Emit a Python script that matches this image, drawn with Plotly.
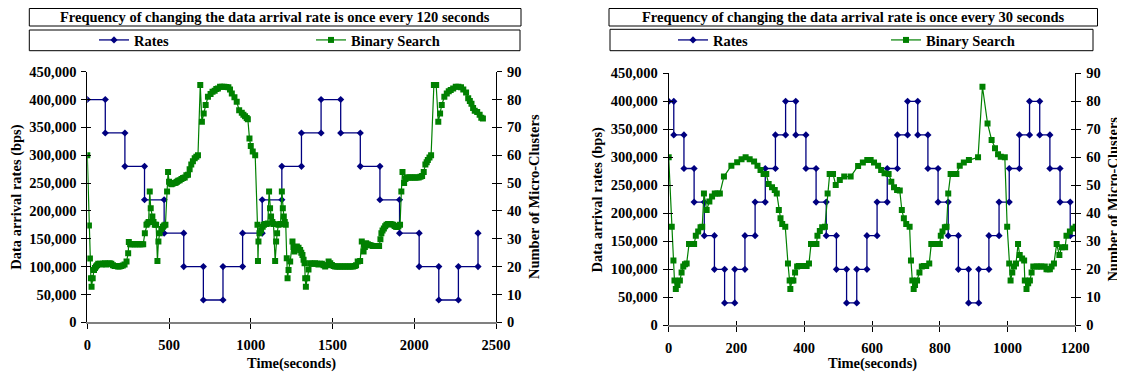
import plotly.graph_objects as go

# ---------------- DATA ----------------
# Left chart: rate changes every 120 s
left_change_times = [0, 110, 230, 350, 470, 590, 710, 830, 950, 1070, 1190, 1310, 1430,
                     1550, 1670, 1790, 1910, 2030, 2150, 2270, 2390]
left_rate_levels = [400000, 340000, 280000, 220000, 160000, 100000, 40000, 100000, 160000,
                    220000, 280000, 340000, 400000, 340000, 280000, 220000, 160000, 100000,
                    40000, 100000, 160000]

left_bs_time = [0, 10, 16, 22, 26, 33, 41, 47, 53, 60, 67, 77, 87, 97, 107, 117, 127, 137, 147,
                157, 167, 177, 187, 197, 207, 217, 228, 240, 250, 254, 262, 272, 282, 292, 302,
                312, 322, 332, 342, 352, 362, 368, 375, 382, 388, 398, 405, 413, 421, 429, 435,
                443, 453, 463, 470, 478, 488, 494, 500, 507, 514, 521, 528, 535, 542, 549, 556,
                565, 576, 586, 596, 606, 616, 626, 636, 646, 657, 667, 677, 691, 701, 712, 724,
                738, 754, 766, 779, 789, 799, 812, 825, 838, 850, 863, 873, 884, 900, 914, 929,
                945, 955, 965, 975, 982, 992, 1000, 1012, 1027, 1041, 1044, 1047, 1053, 1063,
                1073, 1081, 1088, 1096, 1104, 1112, 1118, 1124, 1132, 1139, 1149, 1155, 1161,
                1169, 1176, 1182, 1190, 1196, 1202, 1208, 1214, 1220, 1225, 1231, 1241, 1255,
                1261, 1267, 1275, 1282, 1292, 1302, 1309, 1316, 1323, 1329, 1333, 1337, 1345,
                1353, 1363, 1373, 1384, 1394, 1404, 1414, 1424, 1435, 1445, 1455, 1465, 1476,
                1486, 1496, 1506, 1516, 1526, 1536, 1546, 1556, 1566, 1576, 1586, 1596, 1606,
                1616, 1626, 1636, 1644, 1654, 1669, 1679, 1690, 1698, 1706, 1716, 1727, 1737,
                1748, 1758, 1768, 1778, 1785, 1793, 1799, 1806, 1814, 1822, 1830, 1840, 1851,
                1861, 1872, 1880, 1888, 1896, 1903, 1913, 1921, 1928, 1938, 1946, 1954, 1964,
                1974, 1984, 1994, 2004, 2014, 2027, 2038, 2048, 2058, 2068, 2076, 2083, 2093,
                2103, 2120, 2134, 2147, 2158, 2168, 2184, 2199, 2211, 2223, 2238, 2254, 2270,
                2286, 2300, 2317, 2330, 2340, 2350, 2360, 2370, 2385, 2400, 2410, 2420]
left_bs_clusters = [60, 34.8, 22.9, 15.8, 12.8, 15.8, 18.8, 19.5, 20, 20.5, 21, 21, 20.8, 21,
                    21.2, 20.8, 21, 21.2, 21, 20.5, 20.2, 20.2, 20, 20, 20.2, 20.4, 20.8, 21.8,
                    24.8, 28.8, 28, 28, 28, 28, 28, 28, 28, 28, 28, 32, 35, 35.5, 36, 47, 41, 38,
                    36, 35, 35, 22, 29, 32, 33.5, 34.3, 34.8, 35, 47, 54, 50.5, 50, 49.6, 49.8,
                    50, 50, 50.2, 50.5, 50.8, 51, 51.5, 51.8, 52, 52.8, 53, 55, 56.7, 57.8, 58.9,
                    59.5, 60, 85.2, 72, 75, 78, 81, 82, 82.8, 83.2, 83.8, 84, 84.6, 84.6, 84.6,
                    84.5, 84.4, 83.6, 82.2, 80.8, 79.2, 76.2, 75.3, 74.5, 74, 73.4, 72.9, 66,
                    63.3, 61.3, 60, 35, 22, 29, 32, 33, 34.3, 35, 35.3, 35.3, 35.5, 47, 41, 38,
                    36, 35.3, 22, 29, 32, 35, 35.2, 35.3, 47, 41, 38, 36, 35, 23, 15.8, 18.8,
                    21.8, 29, 27, 25.4, 26.5, 27.2, 26.8, 26, 25, 24.2, 22.5, 21.2, 15.8, 12.8,
                    15.8, 19, 21.2, 21, 21, 21.2, 21, 20.8, 21, 21, 20.5, 20, 20.5, 21.8, 21.2,
                    20.6, 20.2, 20, 20, 20, 20, 20, 20, 20, 20, 20, 20, 20, 20, 20.2, 20.5, 21.8,
                    22, 29, 25.4, 27, 28.4, 28, 27.8, 27.6, 27.4, 27.4, 27.4, 27.4, 27.4, 29.8,
                    32, 33, 33.7, 34.5, 35, 35.3, 35.3, 35.2, 35, 34.6, 34.3, 34.2, 34.5, 35, 47,
                    54, 50, 51.5, 52, 52, 52, 52, 52, 52, 52, 52, 52.3, 52.5, 54, 56.7, 57.5,
                    58.3, 59.2, 60, 85.2, 85.2, 72, 75, 78, 81, 82.2, 83, 83.4, 84, 84.6, 84.6,
                    84.4, 83.6, 82.5, 80.5, 79.5, 78.5, 77, 76, 75.5, 74.5, 73.5, 73.2]

# Right chart: rate changes every 30 s
right_change_times = [0, 15, 45, 75, 105, 135, 165, 195, 225, 255, 285, 315, 345, 375, 405,
                      435, 465, 495, 525, 555, 585, 615, 645, 675, 705, 735, 765, 795, 825,
                      855, 885, 915, 945, 975, 1005, 1035, 1065, 1095, 1125, 1155, 1185, 1215]
right_rate_levels = [400000, 340000, 280000, 220000, 160000, 100000, 40000, 100000, 160000,
                     220000, 280000, 340000, 400000, 340000, 280000, 220000, 160000, 100000,
                     40000, 100000, 160000, 220000, 280000, 340000, 400000, 340000, 280000,
                     220000, 160000, 100000, 40000, 100000, 160000, 220000, 280000, 340000,
                     400000, 340000, 280000, 220000, 160000]

right_bs_time = [0, 9, 14, 17, 21, 26, 33, 38, 43, 48, 53, 60, 68, 75, 80, 87, 94, 99, 104, 112,
                 120, 128, 136, 144, 151, 163, 185, 202, 215, 227, 239, 252, 262, 271, 280, 288,
                 295, 305, 313, 319, 325, 330, 335, 344, 352, 357, 359, 364, 368, 373, 379, 384,
                 392, 400, 407, 414, 420, 426, 431, 436, 439, 446, 453, 461, 469, 475, 485, 493,
                 505, 518, 537, 559, 573, 586, 596, 606, 618, 627, 637, 649, 657, 665, 674, 682,
                 688, 694, 701, 711, 715, 719, 723, 727, 733, 740, 747, 753, 760, 769, 775, 780,
                 790, 800, 803, 808, 815, 820, 825, 832, 841, 849, 859, 871, 886, 913, 926, 941,
                 953, 963, 972, 980, 992, 999, 1005, 1009, 1014, 1019, 1025, 1031, 1036, 1043,
                 1049, 1051, 1056, 1061, 1066, 1071, 1076, 1086, 1093, 1100, 1110, 1115, 1120,
                 1125, 1130, 1137, 1145, 1153, 1160, 1170, 1174, 1184, 1194, 1201]
right_bs_clusters = [60, 35.2, 23.1, 16, 13, 14.4, 16, 18.9, 21, 21.8, 22.1, 29, 29, 29, 32,
                     33.5, 35, 35.2, 47.1, 41.2, 44.2, 46, 47.1, 47.1, 47.1, 53.1, 57, 58.2, 59.3,
                     60, 59.3, 58.5, 57, 55.5, 54, 54, 50.5, 49.3, 48.3, 47.1, 41.2, 38.2, 36.2,
                     35.2, 22.1, 16, 13, 16, 16, 18.9, 21, 21.2, 21.2, 21.2, 21.2, 22.1, 29, 29,
                     29, 29, 32, 33.7, 35, 35.2, 47.1, 54, 54, 50.1, 51.9, 53.1, 53.1, 56.9, 58.1,
                     59, 59, 58.1, 57, 55.5, 54.3, 54, 51.3, 49.3, 48.3, 48.1, 41.2, 38.2, 36.2,
                     35.2, 23.1, 16, 13, 14.4, 16, 18.9, 21, 21.2, 21.2, 22.1, 29, 29, 29, 29, 32,
                     33.5, 35, 35.2, 47.1, 54, 54, 54, 57, 58.1, 59, 60, 85.2, 72.1, 66.2, 63.2,
                     61.1, 60.2, 60, 35.2, 22.1, 16, 18.9, 21, 22.1, 29, 25.1, 23.9, 23.1, 16, 13,
                     15, 16, 18.9, 21, 21, 21, 21, 21, 20, 20, 20, 21, 22.1, 29, 25.1, 27.9, 27.9,
                     32, 33.5, 34.6, 35.2]

left_title = "Frequency of changing the data arrival rate is once every 120 seconds"
right_title = "Frequency of changing the data arrival rate is once every 30 seconds"
left_xticks = [0, 500, 1000, 1500, 2000, 2500]
right_xticks = [0, 200, 400, 600, 800, 1000, 1200]
rate_ticks = [0, 50000, 100000, 150000, 200000, 250000, 300000, 350000, 400000, 450000]
cluster_ticks = [0, 10, 20, 30, 40, 50, 60, 70, 80, 90]

# ---------------- STYLE ----------------
W, H = 1125, 377
OFF = 8  # the page body adds an 8px margin around the figure
FONT = "Liberation Serif"
FS = 14.5
NAVY = "#000080"
GREEN = "#008000"


def px_x(p):
    return (p - OFF) / W


def px_y(p):
    return 1 - (max(p, OFF + 0.5) - OFF) / H


def steps(times, levels):
    xs, ys = [], []
    for i, lv in enumerate(levels):
        xs.append(times[i]); ys.append(lv)
        if i + 1 < len(times):
            xs.append(times[i + 1]); ys.append(lv)
    return xs, ys


fig = go.Figure()

panels = [
    dict(xa="x", ya="y", ya2="y2", xin="x3", yin="y5", yin2="y6",
         times=left_change_times, levels=left_rate_levels,
         bst=left_bs_time, bsc=left_bs_clusters, lg1="legend", lg2="legend2"),
    dict(xa="x2", ya="y3", ya2="y4", xin="x4", yin="y7", yin2="y8",
         times=right_change_times, levels=right_rate_levels,
         bst=right_bs_time, bsc=right_bs_clusters, lg1="legend3", lg2="legend4"),
]

for p in panels:
    sx, sy = steps(p["times"], p["levels"])
    fig.add_trace(go.Scatter(x=sx, y=sy, mode="lines+markers", name="Rates",
                             xaxis=p["xa"], yaxis=p["ya"], legend=p["lg1"],
                             line=dict(color=NAVY, width=1.3),
                             marker=dict(symbol="diamond", size=5.5, color=NAVY)))
    fig.add_trace(go.Scatter(x=p["bst"], y=p["bsc"], mode="lines+markers", name="Binary Search",
                             xaxis=p["xa"], yaxis=p["ya2"], legend=p["lg2"],
                             line=dict(color=GREEN, width=1.2),
                             marker=dict(symbol="square", size=6, color=GREEN)))
    # dummy traces to register inner-tick overlay axes (Excel-style crossing ticks)
    fig.add_trace(go.Scatter(x=[None], y=[None], xaxis=p["xin"], yaxis=p["yin"],
                             showlegend=False, hoverinfo="skip"))
    fig.add_trace(go.Scatter(x=[None], y=[None], xaxis=p["xin"], yaxis=p["yin2"],
                             showlegend=False, hoverinfo="skip"))

# geometry (screen pixels)
L = dict(x0=87.3, x1=496.0, yt=71.7, yb=322.3)
R = dict(x0=668.7, x1=1075.3, yt=73.3, yb=325.3)

tickfont = dict(family=FONT, size=FS, color="#000", weight="bold")
common = dict(showgrid=False, zeroline=False, showline=True, linecolor="#000", linewidth=1,
              ticks="outside", ticklen=5, tickcolor="#000", tickwidth=1, tickfont=tickfont,
              automargin=False)
inner = dict(showgrid=False, zeroline=False, showline=False, ticks="inside", ticklen=4,
             tickcolor="#000", tickwidth=1, showticklabels=False, automargin=False)


def build_axes(g, xr, xt, xk, yk, y2k, xink, yink, yin2k, xs, ys):
    xd = [px_x(g["x0"]), px_x(g["x1"])]
    yd = [px_y(g["yb"]), px_y(g["yt"])]
    return {
        xk: dict(domain=xd, range=xr, tickvals=xt, anchor=ys,
                 **{**common, "linecolor": "#808080", "linewidth": 2}, ticklabelstandoff=3),
        yk: dict(domain=yd, range=[0, 450000], tickvals=rate_ticks, tickformat=",d",
                 anchor=xs, **common, ticklabelstandoff=2),
        y2k: dict(range=[0, 90], tickvals=cluster_ticks, overlaying=ys, side="right",
                  anchor=xs, **common, ticklabelstandoff=2),
        xink: dict(domain=xd, range=xr, tickvals=xt, overlaying=xs, anchor=ys, **inner),
        yink: dict(range=[0, 450000], tickvals=rate_ticks, overlaying=ys, anchor=xs, **inner),
        yin2k: dict(range=[0, 90], tickvals=cluster_ticks, overlaying=ys, side="right",
                    anchor=xs, **inner),
    }


lay_axes = {}
lay_axes.update(build_axes(L, [0, 2500], left_xticks, "xaxis", "yaxis", "yaxis2",
                           "xaxis3", "yaxis5", "yaxis6", "x", "y"))
lay_axes.update(build_axes(R, [0, 1200], right_xticks, "xaxis2", "yaxis3", "yaxis4",
                           "xaxis4", "yaxis7", "yaxis8", "x2", "y3"))

shapes = []
annotations = []
bold = dict(family=FONT, size=FS, color="#000", weight="bold")

for g, title, tb, lb in [
    (L, left_title, (29.3, 521.0, 5.0, 26.0), (29.3, 520.0, 30.0, 50.7)),
    (R, right_title, (609.0, 1097.5, 4.7, 26.0), (610.0, 1093.0, 29.3, 50.7)),
]:
    for (x0, x1, y0, y1) in (tb, lb):
        shapes.append(dict(type="rect", xref="paper", yref="paper",
                           x0=px_x(x0), x1=px_x(x1), y0=px_y(y1), y1=px_y(y0),
                           line=dict(color="#000", width=1), fillcolor="rgba(0,0,0,0)"))
    annotations.append(dict(text=title, xref="paper", yref="paper",
                            x=px_x((tb[0] + tb[1]) / 2), y=px_y(16.5),
                            showarrow=False, font=bold, xanchor="center", yanchor="middle"))
    cy = (g["yt"] + g["yb"]) / 2
    annotations.append(dict(text="Data arrival rates (bps)", xref="paper", yref="paper",
                            x=px_x(g["x0"] - 71.5), y=px_y(cy), textangle=-90,
                            showarrow=False, font=bold, xanchor="center", yanchor="middle"))
    annotations.append(dict(text="Number of Micro-Clusters", xref="paper", yref="paper",
                            x=px_x(g["x1"] + 38), y=px_y(cy), textangle=-90,
                            showarrow=False, font=bold, xanchor="center", yanchor="middle"))
    annotations.append(dict(text="Time(seconds)", xref="paper", yref="paper",
                            x=px_x((g["x0"] + g["x1"]) / 2), y=px_y(363),
                            showarrow=False, font=bold, xanchor="center", yanchor="middle"))

leg = dict(orientation="h", xanchor="left", yanchor="middle", bgcolor="rgba(0,0,0,0)",
           borderwidth=0, font=bold, itemwidth=30, xref="paper", yref="paper")
legends = {
    "legend": dict(x=px_x(94), y=px_y(40), **leg),
    "legend2": dict(x=px_x(311), y=px_y(40), **leg),
    "legend3": dict(x=px_x(673), y=px_y(40), **leg),
    "legend4": dict(x=px_x(886), y=px_y(40), **leg),
}

fig.update_layout(
    width=W, height=H, margin=dict(l=0, r=0, t=0, b=0, pad=0, autoexpand=False),
    paper_bgcolor="white", plot_bgcolor="rgba(0,0,0,0)",
    showlegend=True, shapes=shapes, annotations=annotations,
    **lay_axes, **legends,
)

fig.write_html("out.html")
